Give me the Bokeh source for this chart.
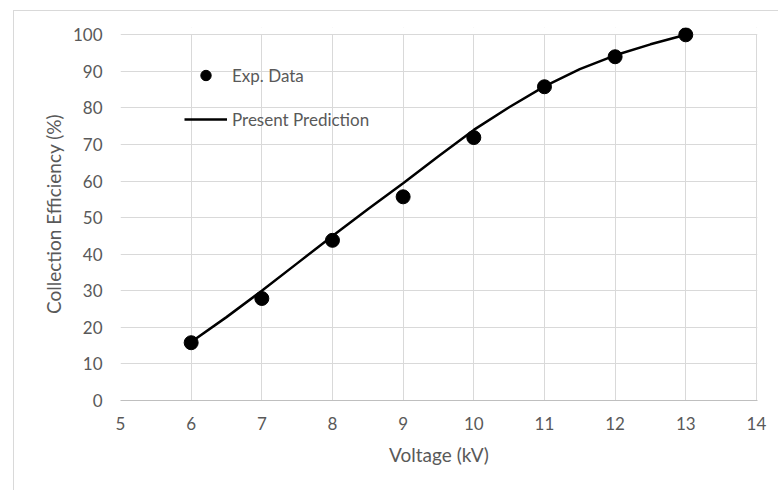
from bokeh.plotting import figure
from bokeh.models import (Range1d, FixedTicker, Legend, LegendItem, BoxAnnotation)
from bokeh.embed import file_html
from bokeh.resources import INLINE

# ---- data ----
exp_voltage = [6, 7, 8, 9, 10, 11, 12, 13]
exp_efficiency = [15.8, 27.9, 43.8, 55.7, 71.9, 85.8, 94.0, 100.0]

pred_voltage = [6, 6.5, 7, 7.5, 8, 8.5, 9, 9.5, 10, 10.5, 11, 11.5, 12, 12.5, 13]
pred_efficiency = [16.0, 22.8, 30.0, 37.5, 45.0, 52.3, 59.4, 66.8, 74.0, 80.2,
                   85.9, 90.6, 94.4, 97.4, 100.0]

x_ticks = [5, 6, 7, 8, 9, 10, 11, 12, 13, 14]
y_ticks = [0, 10, 20, 30, 40, 50, 60, 70, 80, 90, 100]

FONT = "Lato"
GRAY = "#595959"
GRID = "#d9d9d9"

# frame: x 5..14 (≈120..757 px), y 0..100 (≈400..34 px); a little headroom above 100
Y_TOP = 102.0

p = figure(width=765, height=480, output_backend="svg", toolbar_location=None,
           x_range=Range1d(5, 14.015), y_range=Range1d(0, Y_TOP),
           min_border_left=106, min_border_right=22, min_border_top=16,
           min_border_bottom=91,
           margin=(10, 0, 0, 13),
           styles={"border-left": "1px solid #d9d9d9",
                   "border-top": "1px solid #d9d9d9"})
p.background_fill_color = "white"
p.border_fill_color = "white"
p.outline_line_color = None

# grid
p.xgrid.ticker = FixedTicker(ticks=x_ticks)
p.ygrid.ticker = FixedTicker(ticks=y_ticks)
p.xgrid.grid_line_color = GRID
p.ygrid.grid_line_color = GRID
p.xgrid.grid_line_width = 1
p.ygrid.grid_line_width = 1
p.xgrid.level = "image"
p.ygrid.level = "image"

# white mask above the 100 gridline so the grid stops there
p.add_layout(BoxAnnotation(bottom=100.2, fill_color="white", fill_alpha=1,
                           line_color=None, level="underlay"))

# axes
for ax in (p.xaxis[0], p.yaxis[0]):
    ax.major_tick_line_color = None
    ax.minor_tick_line_color = None
    ax.major_label_text_font = FONT
    ax.major_label_text_font_size = "17px"
    ax.major_label_text_color = GRAY
    ax.axis_label_text_font = FONT
    ax.axis_label_text_font_size = "19px"
    ax.axis_label_text_font_style = "normal"
    ax.axis_label_text_color = GRAY

p.xaxis.ticker = FixedTicker(ticks=x_ticks)
p.yaxis.ticker = FixedTicker(ticks=y_ticks)
p.xaxis.axis_line_color = "#bfbfbf"
p.yaxis.axis_line_color = None
p.xaxis.axis_label = "Voltage (kV)"
p.yaxis.axis_label = "Collection Efficiency (%)"
p.xaxis.major_label_standoff = 10
p.yaxis.major_label_standoff = 12
p.xaxis.axis_label_standoff = 10
p.yaxis.axis_label_standoff = 5

# series
line_r = p.line(pred_voltage, pred_efficiency, line_color="black", line_width=2.5)
pts_r = p.scatter(exp_voltage, exp_efficiency, size=14, marker="circle",
                  fill_color="black", line_color="black")

legend = Legend(items=[LegendItem(label="Exp. Data", renderers=[pts_r]),
                       LegendItem(label="Present Prediction", renderers=[line_r])],
                location=(64, 268), padding=0, margin=0, spacing=18,
                glyph_width=43, glyph_height=26, label_height=26,
                label_standoff=5, border_line_color=None,
                background_fill_alpha=0,
                label_text_font=FONT, label_text_font_size="17px",
                label_text_color=GRAY)
p.add_layout(legend, "center")

open("out.html", "w").write(file_html(p, INLINE))
